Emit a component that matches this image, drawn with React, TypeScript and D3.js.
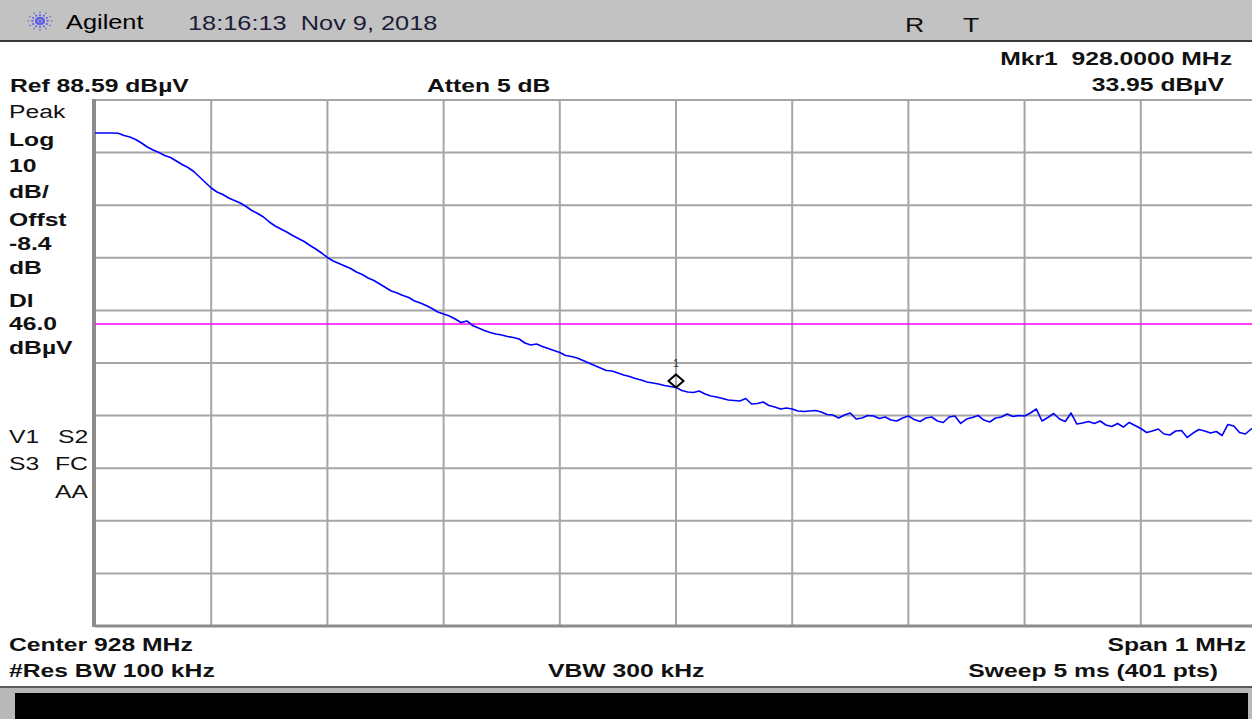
import React from "react";
import * as d3 from "d3";

const W = 1252;
const H = 719;

// Trace: 201 samples (5 kHz step) from 927.5 MHz to 928.5 MHz, dBµV
const traceValues: number[] = [
  82.32, 82.32, 82.32, 82.32, 82.26, 81.84, 81.56, 81.08, 80.42, 79.65,
  79.08, 78.61, 78.04, 77.66, 76.99, 76.33, 75.76, 75.0, 73.95, 72.91,
  71.86, 71.1, 70.62, 69.96, 69.48, 69.01, 68.34, 67.58, 67.01, 66.35,
  65.4, 64.64, 64.07, 63.5, 62.83, 62.26, 61.69, 60.93, 60.26, 59.5,
  58.65, 57.98, 57.51, 57.03, 56.56, 55.89, 55.42, 54.75, 54.27, 53.61,
  52.94, 52.28, 51.9, 51.42, 51.04, 50.38, 50.0, 49.52, 48.95, 48.29,
  47.91, 47.53, 46.95, 46.29, 46.58, 45.72, 45.24, 44.77, 44.39, 44.1,
  43.91, 43.63, 43.44, 43.15, 42.39, 42.01, 42.2, 41.73, 41.35, 40.97,
  40.59, 40.02, 39.83, 39.54, 39.07, 38.59, 38.11, 37.64, 37.16, 37.07,
  36.69, 36.31, 36.02, 35.64, 35.36, 34.98, 34.79, 34.6, 34.31, 34.12,
  33.95, 33.36, 33.08, 32.98, 33.27, 32.7, 32.32, 32.13, 31.84, 31.56,
  31.46, 31.37, 31.84, 30.8, 30.89, 31.18, 30.51, 30.23, 29.85, 30.04,
  29.85, 29.47, 29.37, 29.47, 29.56, 29.27, 28.8, 28.7, 28.13, 28.7,
  29.08, 27.94, 28.13, 28.61, 28.51, 28.04, 28.32, 27.75, 27.56, 28.13,
  28.51, 27.85, 27.47, 28.13, 28.32, 27.56, 27.28, 28.32, 28.51, 27.09,
  27.94, 28.23, 28.61, 27.75, 27.37, 28.13, 28.32, 28.89, 28.42, 28.61,
  28.51, 29.08, 29.85, 27.56, 28.23, 28.99, 27.94, 27.47, 29.08, 26.99,
  27.18, 27.47, 27.09, 27.56, 26.8, 26.52, 27.09, 26.42, 27.28, 26.71,
  26.14, 25.38, 25.66, 26.04, 25.09, 24.9, 25.66, 25.76, 24.43, 25.28,
  25.95, 25.66, 25.28, 25.57, 24.81, 26.9, 26.61, 25.38, 25.09, 26.04,
  26.23,
];

const startMHz = 927.5;
const stopMHz = 928.5;
const refLevel = 88.59;
const dbPerDiv = 10;
const divisions = 10;
const displayLine = 46.0;
const markerFreq = 928.0;
const markerValue = 33.95;

const leftLabels: { text: string; bold: boolean }[] = [
  { text: "Peak", bold: false },
  { text: "Log", bold: true },
  { text: "10", bold: true },
  { text: "dB/", bold: true },
  { text: "Offst", bold: true },
  { text: "-8.4", bold: true },
  { text: "dB", bold: true },
  { text: "Dl", bold: true },
  { text: "46.0", bold: true },
  { text: "dBµV", bold: true },
];
const leftLabelBaselines = [118, 146, 172, 198, 226, 250, 274, 307, 330, 354];

const PL = 95;
const PR = 1257;
const PT = 100;
const PB = 626;

const FONT = "'Liberation Sans', Arial, sans-serif";
const SX = 1.3;

function T(props: {
  x: number;
  y: number;
  children: React.ReactNode;
  bold?: boolean;
  anchor?: "start" | "middle" | "end";
  size?: number;
  fill?: string;
}) {
  const { x, y, children, bold, anchor = "start", size = 19, fill = "#111" } = props;
  return (
    <text
      transform={`translate(${x},${y}) scale(${SX},1)`}
      fontFamily={FONT}
      fontSize={size}
      fontWeight={bold ? "bold" : "normal"}
      textAnchor={anchor}
      fill={fill}
      style={{ whiteSpace: "pre" }}
    >
      {children}
    </text>
  );
}

export default function App() {
  const x = d3.scaleLinear().domain([startMHz, stopMHz]).range([PL, PR]);
  const y = d3
    .scaleLinear()
    .domain([refLevel - dbPerDiv * divisions, refLevel])
    .range([PB, PT]);

  const step = (stopMHz - startMHz) / (traceValues.length - 1);
  const pts: [number, number][] = traceValues.map((v, i) => [startMHz + i * step, v]);
  const line = d3
    .line<[number, number]>()
    .x((d) => x(d[0]))
    .y((d) => y(d[1]));

  const xTicks = d3.range(0, divisions + 1).map((i) => startMHz + (i * (stopMHz - startMHz)) / divisions);
  const yTicks = d3.range(0, divisions + 1).map((i) => refLevel - i * dbPerDiv);

  const mx = x(markerFreq);
  const my = y(markerValue) - 6.5;

  // Agilent spark logo
  const logo: { cx: number; cy: number; r: number }[] = [];
  d3.range(0, 12).forEach((k) => {
    const a = (k * Math.PI) / 6;
    [3, 6, 9].forEach((rr, j) => {
      logo.push({ cx: 40 + Math.cos(a) * rr * 1.3, cy: 21 + Math.sin(a) * rr, r: 1.3 - j * 0.25 });
    });
  });

  return (
    <svg
      width={W}
      height={H}
      style={{ position: "absolute", left: 0, top: 0, background: "#fff" }}
    >
      {/* header */}
      <rect x={0} y={0} width={W} height={40} fill="#c2c2c2" />
      <rect x={0} y={40} width={W} height={2} fill="#3a3a3a" />
      {logo.map((p, i) => (
        <circle key={i} cx={p.cx} cy={p.cy} r={p.r} fill="#5a5ae8" />
      ))}
      <circle cx={40} cy={21} r={1.6} fill="#5a5ae8" />
      <T x={66} y={29} size={19.5} fill="#000">Agilent</T>
      <T x={188} y={29.5} size={19.5} fill="#1c1c38">18:16:13  Nov 9, 2018</T>
      <T x={905} y={31.5} size={20.5} fill="#111">R</T>
      <T x={963} y={31.5} size={20.5} fill="#111">T</T>

      {/* top annotations */}
      <T x={1232} y={65} bold anchor="end">Mkr1  928.0000 MHz</T>
      <T x={1224} y={91} bold anchor="end">33.95 dBµV</T>
      <T x={10} y={91.5} bold>Ref 88.59 dBµV</T>
      <T x={427} y={92} bold>Atten 5 dB</T>

      {/* left annotations */}
      {leftLabels.map((l, i) => (
        <T key={i} x={9} y={leftLabelBaselines[i]} bold={l.bold}>
          {l.text}
        </T>
      ))}
      <T x={9} y={443}>V1</T>
      <T x={58} y={443}>S2</T>
      <T x={9} y={470}>S3</T>
      <T x={55} y={470}>FC</T>
      <T x={55} y={498}>AA</T>

      {/* grid */}
      <g stroke="#a6a6a6" strokeWidth={2}>
        {xTicks.map((t, i) => (
          <line key={"vx" + i} x1={x(t)} x2={x(t)} y1={PT} y2={PB} />
        ))}
        {yTicks.map((t, i) => (
          <line key={"hy" + i} x1={PL} x2={PR} y1={y(t)} y2={y(t)} />
        ))}
      </g>
      <line x1={PL - 1} x2={PL - 1} y1={PT - 1} y2={PB + 1} stroke="#8c8c8c" strokeWidth={4} />
      <line x1={PL} x2={PR} y1={PB} y2={PB} stroke="#8c8c8c" strokeWidth={3} />

      {/* display line */}
      <line x1={PL} x2={PR} y1={y(displayLine)} y2={y(displayLine)} stroke="#ff00ff" strokeWidth={1.5} />

      {/* trace */}
      <path d={line(pts) || ""} fill="none" stroke="#0000ff" strokeWidth={1.6} strokeLinejoin="round" />

      {/* marker */}
      <path
        d={`M${mx},${my - 6.5}L${mx + 7.5},${my}L${mx},${my + 6.5}L${mx - 7.5},${my}Z`}
        fill="none"
        stroke="#000"
        strokeWidth={2}
      />
      <text x={mx} y={my - 14} fontFamily={FONT} fontSize={11} textAnchor="middle" fill="#333">
        1
      </text>

      {/* bottom annotations */}
      <T x={9} y={651} bold>Center 928 MHz</T>
      <T x={9} y={677} bold>#Res BW 100 kHz</T>
      <T x={1246} y={651} bold anchor="end">Span 1 MHz</T>
      <T x={548} y={677} bold>VBW 300 kHz</T>
      <T x={1218} y={677} bold anchor="end">Sweep 5 ms (401 pts)</T>

      {/* bottom bar */}
      <rect x={0} y={686} width={W} height={H - 686} fill="#b8b8b8" />
      <rect x={0} y={686} width={W} height={2} fill="#5a5a5a" />
      <rect x={15} y={693} width={1233} height={H - 693} fill="#000" />
    </svg>
  );
}
